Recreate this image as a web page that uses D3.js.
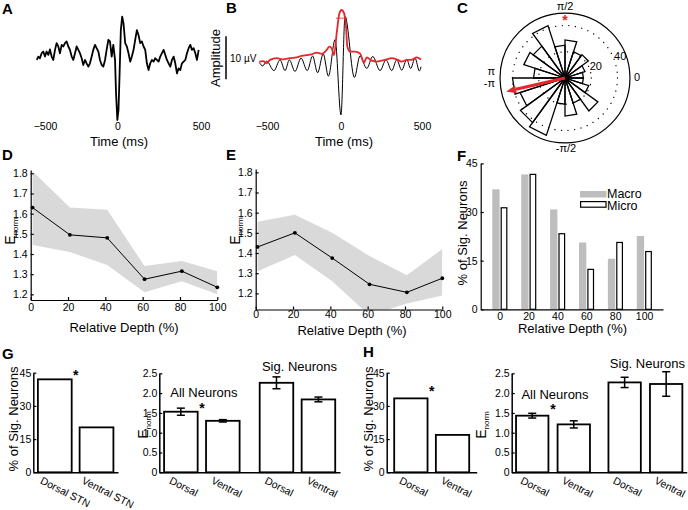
<!DOCTYPE html>
<html><head><meta charset="utf-8">
<script src="https://cdn.jsdelivr.net/npm/d3@7"></script>
<style>
body{margin:0;background:#fff;}
svg{display:block;font-family:"Liberation Sans",Arial,Helvetica,sans-serif;background:#fff;}
</style></head><body>
<svg id="chart" width="688" height="510"></svg>
<script>
// ---------------- DATA ----------------
// Panel A: average LFP trace (ms, µV)
const aTime=[-557,-546,-535,-523,-512,-500,-489,-477,-466,-454,-443,-431,-420,-408,-397,-385,-374,-362,-351,-339,-328,-316,-305,-293,-282,-270,-259,-247,-236,-224,-213,-201,-190,-178,-167,-155,-144,-132,-121,-109,-98,-86,-75,-63,-52,-40,-29,-17,-10,-1,6,12,20,28,36,46,56,66,76,86,96,106,116,126,136,146,156,166,176,186,196,206,216,226,236,246,256,266,276,286,296,306,316,326,336,346,356,366,376,386,396,406,416,426,436,446,456,466,476,486];
const aAmp=[-0.7,0.1,-0.3,0.9,1.3,0.1,1.3,0.5,1.8,0.1,-0.7,1.7,3.3,2.5,0.9,2.9,2.5,3.3,3.7,2.5,1.7,0.1,-0.7,0.9,2.5,1.7,0.9,-0.3,-1.9,-0.7,-1.5,-2.3,-1.5,0.1,1.7,2.9,2.1,1.3,-0.7,-1.9,-2.3,-0.7,1.7,4.1,3.7,0.1,2.9,-0.7,-8.7,-15,-12.6,-4.7,6.4,9.6,8.0,3.3,2.5,0.9,-1.1,0.1,1.7,4.1,6.4,5.2,3.3,3.7,2.5,1.7,-1.5,-3.1,-1.5,-0.7,-1.1,-0.3,-0.7,-1.1,0.1,0.9,1.7,0.5,-0.7,-1.5,-2.3,-0.7,0.1,-1.5,-3.9,-2.7,-3.1,-1.5,-1.1,-0.7,0.9,2.1,2.9,1.7,2.1,0.9,-0.7,1.7];
// Panel B: filtered trace and its envelope
const bTime=[-552,-529,-502,-453,-412,-378,-349,-311,-270,-228,-192,-158,-120,-85,-40,0,25,83,117,159,196,241,278,313,344,375,406,430,457,484,494];
const bAmp=[0.2,-0.6,0.5,-1.7,0.8,-1.7,0.8,-1.9,1.2,-1.7,1.7,-2.2,2.2,-3.0,5.5,-12.0,10.9,-3.3,1.7,-1.2,1.6,-1.7,0.8,-1.7,0.8,-1.6,0.9,-1.2,1.2,-1.8,-0.8];
const bEnvTime=[-552,-525,-502,-480,-435,-390,-345,-300,-266,-232,-198,-165,-131,-97,-79,-63,-47,-29,-11,4,19,31,39,56,87,117,142,159,190,220,251,282,313,344,375,406,436,467,494];
const bEnvAmp=[0.4,0.5,0,0.8,1.2,0.9,1.2,1.4,1.7,1.9,2.1,2.5,2.2,3.1,3.9,3.5,1.9,7.0,11.6,12.4,11.6,8.5,3.9,2.7,2.7,2.3,0.2,1.4,0.6,0.4,0.6,0.9,1.2,0.9,0.4,0.8,0.8,1.4,0.9];
const bPeakSpan=[-34,39]; const bPeakLevel=10.5;
const scaleBarTop=6.3, scaleBarSize=10;
const timeTicks=[-500,0,500];
// Panel C: phase rose
const roseStartDeg=[0,18,36,54,72,90,108,126,144,162,180,198,216,234,252,270,288,306,324,342];
const roseCounts=[14,16,22,21,29,25,42,30,33,24,40,36,42,46,20,29,20,31,19,14];
const roseBinWidth=18;
const ringValues=[20,40];
const polarMax=49.5;
const meanAngleDeg=193, meanVectorLen=46;
// Panels D/E: E_norm vs depth
const depth=[1,21,41,61,81,100];
const depthTicks=[0,20,40,60,80,100];
const enormTicks=[1.2,1.3,1.4,1.5,1.6,1.7,1.8];
const dMean=[1.63,1.495,1.48,1.275,1.315,1.235];
const dUpper=[1.81,1.63,1.62,1.34,1.365,1.315];
const dLower=[1.445,1.41,1.345,1.21,1.265,1.2];
const eMean=[1.43,1.5,1.375,1.245,1.205,1.275];
const eUpper=[1.555,1.59,1.5,1.385,1.29,1.42];
const eLower=[1.31,1.39,1.26,1.09,1.15,1.19];
// Panel F
const fCats=["0","20","40","60","80","100"];
const fMacro=[37,41.6,30.8,20.6,15.6,22.6];
const fMicro=[31.5,41.8,23.5,12.5,20.8,18.0];
const pctTicks=[0,15,30,45];
// Panels G/H
const gRegions=["Dorsal STN","Ventral STN"], gSigPct=[42.0,20.3];
const hRegions=["Dorsal","Ventral"], hSigPct=[33.4,16.9];
const groupNames=["All Neurons","Sig. Neurons"];
const subNames=["Dorsal","Ventral"];
const enormBarTicks=[0,0.5,1,1.5,2,2.5];
const gAllMean=[1.53,1.30], gAllErr=[0.09,0.03], gSigMean=[2.26,1.84], gSigErr=[0.15,0.06];
const hAllMean=[1.43,1.21], hAllErr=[0.06,0.09], hSigMean=[2.27,2.23], hSigErr=[0.13,0.31];

// ---------------- HELPERS ----------------
const svg=d3.select("#chart");
const RED="#e5262b";
function addText(x,y,str,o={}){
  const t=svg.append("text")
    .attr("transform",`translate(${x},${y})`+(o.rotate?` rotate(${o.rotate})`:""))
    .attr("text-anchor",o.anchor||"start")
    .style("font-size",(o.size||13)+"px")
    .style("font-weight",o.weight||"normal")
    .attr("fill",o.fill||"#000");
  if(o.dy) t.attr("dy",o.dy);
  t.text(str);
  return t;
}
function styleAxis(g,size){
  g.attr("font-family",null).attr("font-size",null);
  g.selectAll("text").style("font-size",(size||10.5)+"px").attr("fill","#000");
  g.selectAll("path.domain, line").attr("stroke","#000").attr("stroke-width",1.2);
}
function enormLabel(x,y){
  const t=svg.append("text").attr("transform",`translate(${x},${y}) rotate(-90)`)
    .attr("text-anchor","middle").style("font-size","14px");
  t.append("tspan").text("E");
  t.append("tspan").attr("dy",3).style("font-size","8px").text("norm");
}
function star(x,y,fill){
  addText(x,y+8,"*",{anchor:"middle",size:14,weight:"bold",fill:fill||"#000"});
}

// panel letters
[["A",2,14],["B",226,13],["C",457,13],["D",2,160],["E",226,160],["F",457,161],["G",2,359],["H",363,357]]
  .forEach(([l,x,y])=>addText(x,y,l,{size:15,weight:"bold"}));

// ---------------- PANEL A ----------------
const xA=d3.scaleLinear().domain([-500,0,500]).range([45,117.5,201]);
const yA=d3.scaleLinear().domain([-15,10]).range([120,15]);
svg.append("path").datum(aTime.map((t,i)=>[t,aAmp[i]]))
  .attr("d",d3.line().x(d=>xA(d[0])).y(d=>yA(d[1])))
  .attr("fill","none").attr("stroke","#000").attr("stroke-width",1.8).attr("stroke-linejoin","round");
const gAx=svg.append("g").attr("transform","translate(0,123)")
  .call(d3.axisBottom(xA).tickValues(timeTicks).tickSize(0).tickPadding(0));
gAx.select(".domain").remove(); styleAxis(gAx,10.5);
addText(119,146,"Time (ms)",{anchor:"middle"});

// ---------------- PANEL B ----------------
const xB=d3.scaleLinear().domain([-500,0,500]).range([267,341,422]);
const yB=d3.scaleLinear().domain([-12,12]).range([114.9,11.7]);
svg.append("path").datum(bTime.map((t,i)=>[t,bAmp[i]]))
  .attr("d",d3.line().x(d=>xB(d[0])).y(d=>yB(d[1])).curve(d3.curveMonotoneX))
  .attr("fill","none").attr("stroke","#000").attr("stroke-width",1);
svg.append("path").datum(bEnvTime.map((t,i)=>[t,bEnvAmp[i]]))
  .attr("d",d3.line().x(d=>xB(d[0])).y(d=>yB(d[1])).curve(d3.curveMonotoneX))
  .attr("fill","none").attr("stroke",RED).attr("stroke-width",1.8);
svg.append("line").attr("x1",xB(bPeakSpan[0])).attr("x2",xB(bPeakSpan[1]))
  .attr("y1",yB(bPeakLevel)).attr("y2",yB(bPeakLevel)).attr("stroke",RED).attr("stroke-width",0.8);
svg.append("line").attr("x1",226).attr("x2",226).attr("y1",yB(scaleBarTop)).attr("y2",yB(scaleBarTop-scaleBarSize))
  .attr("stroke","#000").attr("stroke-width",1.5);
addText(230,61.5,"10 µV",{size:10});
addText(220,58,"Amplitude",{anchor:"middle",rotate:-90});
const gBx=svg.append("g").attr("transform","translate(0,123)")
  .call(d3.axisBottom(xB).tickValues(timeTicks).tickSize(0).tickPadding(0));
gBx.select(".domain").remove(); styleAxis(gBx,10.5);
addText(344,146,"Time (ms)",{anchor:"middle"});

// ---------------- PANEL C ----------------
const cxC=565, cyC=78;
const rC=d3.scaleLinear().domain([0,40]).range([0,52.5]);
const polar=(deg,v)=>[cxC+rC(v)*Math.cos(deg*Math.PI/180), cyC-rC(v)*Math.sin(deg*Math.PI/180)];
svg.append("circle").attr("cx",cxC).attr("cy",cyC).attr("r",rC(polarMax))
  .attr("fill","none").attr("stroke","#000").attr("stroke-width",1.2);
ringValues.forEach(v=>{
  svg.append("circle").attr("cx",cxC).attr("cy",cyC).attr("r",rC(v))
    .attr("fill","none").attr("stroke","#000").attr("stroke-width",1.3)
    .attr("stroke-dasharray","0.1,6.5").attr("stroke-linecap","round");
});
roseStartDeg.forEach((s,i)=>{
  const p1=polar(s,roseCounts[i]), p2=polar(s+roseBinWidth,roseCounts[i]);
  svg.append("path").attr("d",`M${cxC},${cyC}L${p1[0]},${p1[1]}L${p2[0]},${p2[1]}Z`)
    .attr("fill","none").attr("stroke","#000").attr("stroke-width",1.3).attr("stroke-linejoin","miter");
});
svg.append("circle").attr("cx",cxC).attr("cy",cyC).attr("r",3.5).attr("fill","#000");
ringValues.forEach(v=>{
  const p=[cxC+(rC(v)+7)*Math.cos(22*Math.PI/180), cyC-(rC(v)+7)*Math.sin(22*Math.PI/180)];
  addText(p[0],p[1]+4,String(v),{anchor:"middle",size:11});
});
{
  const tip=polar(meanAngleDeg,meanVectorLen);
  const a=meanAngleDeg*Math.PI/180, ux=Math.cos(a), uy=-Math.sin(a);
  const hl=10, hw=4;
  const bx=tip[0]-ux*hl, by=tip[1]-uy*hl;
  svg.append("line").attr("x1",cxC).attr("y1",cyC).attr("x2",bx).attr("y2",by)
    .attr("stroke",RED).attr("stroke-width",3);
  svg.append("path").attr("d",`M${tip[0]},${tip[1]}L${bx-uy*hw},${by+ux*hw}L${bx+uy*hw},${by-ux*hw}Z`).attr("fill",RED);
}
{ const p=polar(90,46.5); star(p[0],p[1],RED); }
addText(565,9.5,"π/2",{anchor:"middle",size:11});
addText(566,152,"-π/2",{anchor:"middle",size:11});
addText(637,81,"0",{anchor:"middle",size:11});
addText(495,75,"π",{anchor:"end",size:11});
addText(495,87,"-π",{anchor:"end",size:11});

// ---------------- PANELS D / E ----------------
function depthPanel(cfg){
  const x=d3.scaleLinear().domain([0,100]).range(cfg.xr);
  const y=d3.scaleLinear().domain(cfg.yd).range(cfg.yr);
  const cid="clip"+cfg.id;
  svg.append("clipPath").attr("id",cid).append("rect")
    .attr("x",cfg.xr[0]).attr("y",cfg.yr[1]).attr("width",cfg.xr[1]-cfg.xr[0]).attr("height",cfg.yr[0]-cfg.yr[1]);
  svg.append("path").datum(depth)
    .attr("d",d3.area().x((d,i)=>x(d)).y0((d,i)=>y(cfg.lower[i])).y1((d,i)=>y(cfg.upper[i])))
    .attr("fill","#d9d9d9").attr("clip-path",`url(#${cid})`);
  svg.append("path").datum(depth)
    .attr("d",d3.line().x(d=>x(d)).y((d,i)=>y(cfg.mean[i])))
    .attr("fill","none").attr("stroke","#000").attr("stroke-width",1);
  svg.selectAll(null).data(depth).enter().append("circle")
    .attr("cx",d=>x(d)).attr("cy",(d,i)=>y(cfg.mean[i])).attr("r",1.9).attr("fill","#000");
  const gx=svg.append("g").attr("transform",`translate(0,${cfg.yr[0]})`)
    .call(d3.axisBottom(x).tickValues(depthTicks).tickSize(-3).tickSizeOuter(0).tickPadding(cfg.xpad));
  styleAxis(gx,10.5);
  const gy=svg.append("g").attr("transform",`translate(${cfg.xr[0]},0)`)
    .call(d3.axisLeft(y).tickValues(enormTicks).tickFormat(d3.format(".1f")).tickSize(-3).tickSizeOuter(0).tickPadding(3));
  styleAxis(gy,10.5);
  addText(cfg.titleX,cfg.titleY,"Relative Depth (%)",{anchor:"middle"});
  enormLabel(cfg.eX,231);
}
depthPanel({id:"D",xr:[30.7,217.3],yd:[1.172,1.816],yr:[300,170.1],mean:dMean,upper:dUpper,lower:dLower,xpad:4,titleX:124,titleY:332,eX:15});
depthPanel({id:"E",xr:[255.7,442.3],yd:[1.12,1.816],yr:[309.5,169.1],mean:eMean,upper:eUpper,lower:eLower,xpad:1.5,titleX:352,titleY:334.5,eX:240});

// ---------------- PANEL F ----------------
{
  const x=d3.scalePoint().domain(fCats).range([480.7,663]).padding(0.654);
  const y=d3.scaleLinear().domain([0,45]).range([309.3,163.4]);
  svg.selectAll(null).data(fCats).enter().append("rect")
    .attr("x",d=>x(d)-7.3).attr("width",7.3)
    .attr("y",(d,i)=>y(fMacro[i])).attr("height",(d,i)=>y(0)-y(fMacro[i])).attr("fill","#bdbdbd");
  svg.selectAll(null).data(fCats).enter().append("rect")
    .attr("x",d=>x(d)+1.6).attr("width",5.6)
    .attr("y",(d,i)=>y(fMicro[i])+0.6).attr("height",(d,i)=>y(0)-y(fMicro[i])-0.6)
    .attr("fill","#fff").attr("stroke","#000").attr("stroke-width",1.2);
  const gx=svg.append("g").attr("transform",`translate(0,${y(0)})`)
    .call(d3.axisBottom(x).tickSize(0).tickSizeOuter(0).tickPadding(3));
  styleAxis(gx,10.5);
  const gy=svg.append("g").attr("transform",`translate(480.7,0)`)
    .call(d3.axisLeft(y).tickValues(pctTicks).tickSize(-3).tickSizeOuter(0).tickPadding(3));
  styleAxis(gy,10.5);
  svg.append("rect").attr("x",580).attr("y",191).attr("width",26.5).attr("height",6.5).attr("fill","#bdbdbd");
  svg.append("rect").attr("x",580.6).attr("y",201.6).attr("width",25.4).attr("height",5.6)
    .attr("fill","#fff").attr("stroke","#000").attr("stroke-width",1.2);
  addText(607,197.5,"Macro",{size:12.5});
  addText(607,210,"Micro",{size:12.5});
  addText(467,233,"% of Sig. Neurons",{anchor:"middle",rotate:-90});
  addText(572.5,333,"Relative Depth (%)",{anchor:"middle"});
}

// ---------------- PANELS G / H ----------------
function rotLabel(x,y,str){
  addText(x,y,str,{size:10.5,rotate:27,dy:"0.71em"});
}
function pctBars(cfg){
  const x=d3.scaleBand().domain(cfg.cats).range(cfg.xr).paddingInner(cfg.pi).paddingOuter(cfg.po);
  const y=d3.scaleLinear().domain([0,45]).range([472.3,372.7]);
  svg.selectAll(null).data(cfg.cats).enter().append("rect")
    .attr("x",d=>x(d)).attr("width",x.bandwidth())
    .attr("y",(d,i)=>y(cfg.vals[i])).attr("height",(d,i)=>y(0)-y(cfg.vals[i]))
    .attr("fill","#fff").attr("stroke","#000").attr("stroke-width",1.8);
  const gx=svg.append("g").attr("transform",`translate(0,${y(0)})`)
    .call(d3.axisBottom(x).tickSize(0).tickSizeOuter(0).tickFormat(""));
  styleAxis(gx); gx.select(".domain").attr("stroke-width",1.5);
  const gy=svg.append("g").attr("transform",`translate(${cfg.xr[0]},0)`)
    .call(d3.axisLeft(y).tickValues(pctTicks).tickSize(-3).tickSizeOuter(0).tickPadding(2));
  styleAxis(gy,10.5); gy.select(".domain").attr("stroke-width",1.5);
  cfg.cats.forEach(c=>rotLabel(x(c)+x.bandwidth()/2-cfg.lblShift,y(0)+4,c));
  star((x(cfg.cats[0])+x.bandwidth()+x(cfg.cats[1]))/2, y(cfg.vals[0])-cfg.starGap);
  addText(cfg.labelX,419,"% of Sig. Neurons",{anchor:"middle",rotate:-90});
}
function enormBars(cfg){
  const outer=d3.scaleBand().domain(groupNames).range(cfg.xr).paddingInner(cfg.pi).paddingOuter(cfg.po);
  const inner=d3.scaleBand().domain(subNames).range([0,outer.bandwidth()]).paddingInner(cfg.innerPi);
  const y=d3.scaleLinear().domain([0,2.5]).range([472.3,373.3]);
  const data=[];
  groupNames.forEach((g,gi)=>subNames.forEach((s,si)=>{
    data.push({g,s,m:gi===0?cfg.allMean[si]:cfg.sigMean[si],e:gi===0?cfg.allErr[si]:cfg.sigErr[si]});
  }));
  const bx=d=>outer(d.g)+inner(d.s);
  svg.selectAll(null).data(data).enter().append("rect")
    .attr("x",bx).attr("width",inner.bandwidth())
    .attr("y",d=>y(d.m)).attr("height",d=>y(0)-y(d.m))
    .attr("fill","#fff").attr("stroke","#000").attr("stroke-width",1.8);
  data.forEach(d=>{
    const cx=bx(d)+inner.bandwidth()/2;
    svg.append("line").attr("x1",cx).attr("x2",cx).attr("y1",y(d.m-d.e)).attr("y2",y(d.m+d.e)).attr("stroke","#000").attr("stroke-width",1.5);
    [d.m-d.e,d.m+d.e].forEach(v=>svg.append("line").attr("x1",cx-4).attr("x2",cx+4).attr("y1",y(v)).attr("y2",y(v)).attr("stroke","#000").attr("stroke-width",1.5));
    rotLabel(cx-9,y(0)+4,d.s);
  });
  const gx=svg.append("g").attr("transform",`translate(0,${y(0)})`)
    .call(d3.axisBottom(outer).tickSize(0).tickSizeOuter(0).tickFormat(""));
  styleAxis(gx); gx.select(".domain").attr("stroke-width",1.5);
  const gy=svg.append("g").attr("transform",`translate(${cfg.xr[0]},0)`)
    .call(d3.axisLeft(y).tickValues(enormBarTicks).tickFormat(d=>d===0?"0":d3.format(".1f")(d)).tickSize(-3).tickSizeOuter(0).tickPadding(2));
  styleAxis(gy,10.5); gy.select(".domain").attr("stroke-width",1.5);
  addText(outer(groupNames[0])+outer.bandwidth()/2+2,cfg.allY,groupNames[0],{anchor:"middle"});
  addText(outer(groupNames[1])+outer.bandwidth()/2+2,cfg.sigY,groupNames[1],{anchor:"middle"});
  const sx=outer(groupNames[0])+(inner(subNames[0])+inner.bandwidth()+inner(subNames[1]))/2;
  star(sx,y(cfg.allMean[0]+cfg.allErr[0])-cfg.starGap);
  enormLabel(cfg.eX,425);
}
pctBars({cats:gRegions,vals:gSigPct,xr:[33.3,118],pi:0.19,po:0.11,starGap:7,labelX:18,lblShift:12});
pctBars({cats:hRegions,vals:hSigPct,xr:[386.7,476.7],pi:0.2,po:0.18,starGap:10,labelX:373,lblShift:9});
enormBars({xr:[159.3,340],pi:0.21,po:0.05,innerPi:0.2,allMean:gAllMean,allErr:gAllErr,sigMean:gSigMean,sigErr:gSigErr,allY:397,sigY:371,starGap:3,eX:148});
enormBars({xr:[511.7,686.7],pi:0.2,po:0.047,innerPi:0.22,allMean:hAllMean,allErr:hAllErr,sigMean:hSigMean,sigErr:hSigErr,allY:399,sigY:368,starGap:7,eX:486});
</script></body></html>
